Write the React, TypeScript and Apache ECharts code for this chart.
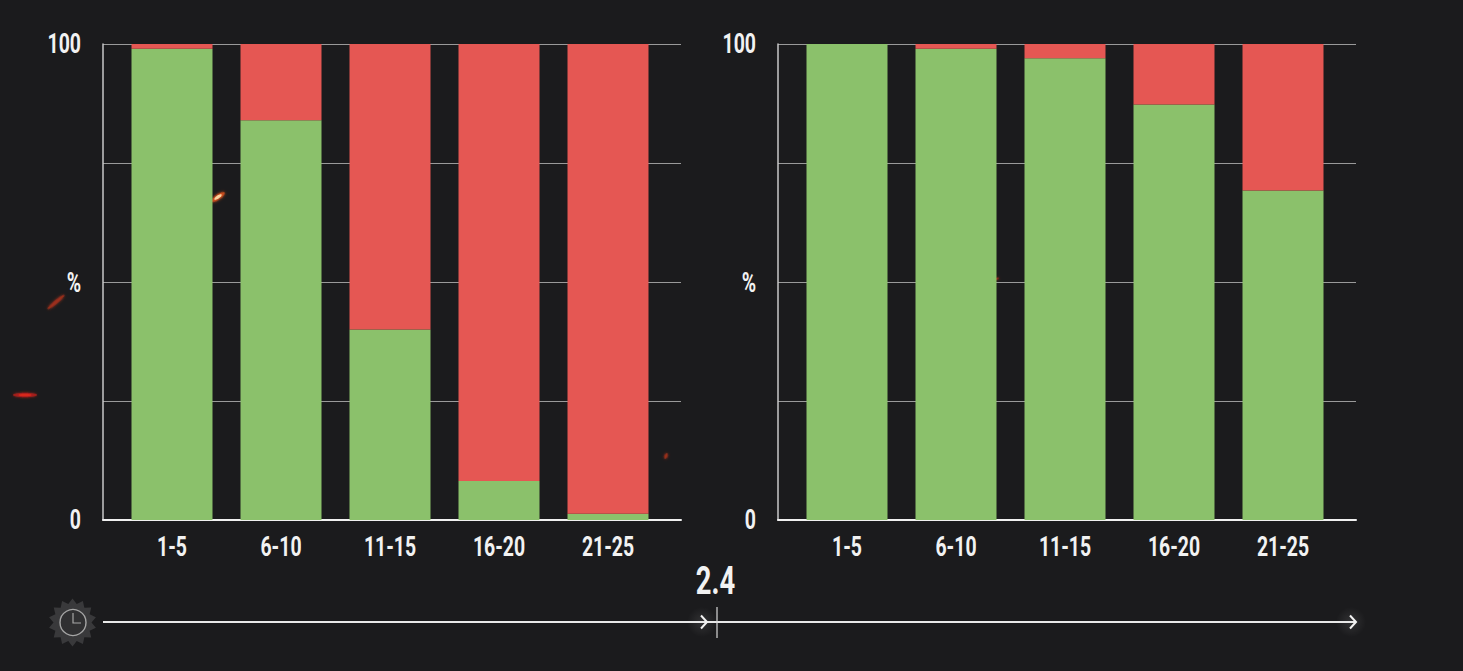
import React, { useEffect, useRef } from "react";
import * as echarts from "echarts";

const categories = ["1-5", "6-10", "11-15", "16-20", "21-25"];
const leftGreen = [99, 84, 40, 8.2, 1.3];
const leftRed = [1, 16, 60, 91.8, 98.7];
const rightGreen = [100, 99, 97, 87.3, 69.2];
const rightRed = [0, 1, 3, 12.7, 30.8];
const yTickValues = [0, 50, 100];
const yTickLabels = ["0", "%", "100"];
const timelineLabel = "2.4";

const BG = "#1b1b1d";
const GREEN = "#8bc16b";
const RED = "#e55753";
const FONT = "Roboto, sans-serif";

function gearPoints(cx: number, cy: number, r1: number, r2: number, n: number) {
  const pts: number[][] = [];
  for (let i = 0; i < n * 2; i++) {
    const a = (Math.PI * i) / n - Math.PI / 2;
    const r = i % 2 === 0 ? r1 : r2;
    pts.push([cx + r * Math.cos(a), cy + r * Math.sin(a)]);
  }
  return pts;
}

const glow = (x: number, y: number, r: number) => ({
  type: "circle",
  shape: { cx: x, cy: y, r },
  style: {
    fill: new echarts.graphic.RadialGradient(0.5, 0.5, 0.5, [
      { offset: 0, color: "rgba(255,255,255,0.10)" },
      { offset: 1, color: "rgba(255,255,255,0)" },
    ]),
  },
  silent: true,
});

const spark = (x: number, y: number, rx: number, ry: number, rot: number, color: string, core?: string) => ({
  type: "group",
  x,
  y,
  rotation: rot,
  silent: true,
  children: [
    { type: "ellipse", shape: { cx: 0, cy: 0, rx, ry }, style: { fill: color, opacity: 0.8, shadowBlur: 3, shadowColor: color } },
    ...(core
      ? [{ type: "ellipse", shape: { cx: 0, cy: 0, rx: rx * 0.55, ry: ry * 0.6 }, style: { fill: core } }]
      : []),
  ],
});

const arrow = (x: number, y: number) => ({
  type: "polyline",
  shape: { points: [[x - 6, y - 6.5], [x, y], [x - 6, y + 6.5]] },
  style: { stroke: "#f2f2f2", lineWidth: 2, fill: "none" },
  silent: true,
});

const narrowText = (text: string, x: number, y: number, size: number, align: string) => ({
  type: "text",
  x,
  y,
  scaleX: 0.72,
  silent: true,
  style: {
    text,
    fill: "#f2f2f2",
    fontFamily: FONT,
    fontWeight: "bold",
    fontSize: size,
    textAlign: align,
    textVerticalAlign: "middle",
  },
});

export default function App() {
  const ref = useRef<HTMLDivElement>(null);
  useEffect(() => {
    document.body.style.margin = "0";
    document.body.style.background = BG;
    const chart = echarts.init(ref.current!, undefined, { renderer: "svg" });

    const frameLefts = [103, 778];
    const barLefts = [117.5, 792.5];
    const top = 44;
    const h = 476;

    const grids = [
      ...frameLefts.map((left) => ({ left, top, width: 578, height: h })),
      ...barLefts.map((left) => ({ left, top, width: 545, height: h })),
    ];
    const frameX = [0, 1].map((i) => ({
      gridIndex: i,
      type: "category",
      data: categories,
      axisLine: { show: true, lineStyle: { color: "#f0f0f0", width: 2 } },
      axisTick: { show: false },
      axisLabel: { show: false },
    }));
    const barX = [2, 3].map((i) => ({
      gridIndex: i,
      type: "category",
      data: categories,
      axisLine: { show: false },
      axisTick: { show: false },
      axisLabel: { show: false },
    }));
    const frameY = [0, 1].map((i) => ({
      gridIndex: i,
      type: "value",
      min: 0,
      max: 100,
      interval: 25,
      axisLine: { show: true, lineStyle: { color: "#c8c8c8", width: 1.5 } },
      axisTick: { show: false },
      splitLine: { show: true, lineStyle: { color: "#9a9a9a", width: 1 } },
      axisLabel: { show: false },
    }));
    const barY = [2, 3].map((i) => ({
      gridIndex: i,
      type: "value",
      min: 0,
      max: 100,
      interval: 25,
      axisLine: { show: false },
      axisTick: { show: false },
      splitLine: { show: false },
      axisLabel: { show: false },
    }));

    const bars = (idx: number, stack: string, data: number[], color: string) => ({
      type: "bar",
      xAxisIndex: idx,
      yAxisIndex: idx,
      stack,
      data,
      barWidth: 81,
      itemStyle: { color },
      silent: true,
    });

    chart.setOption({
      animation: false,
      backgroundColor: BG,
      grid: grids,
      xAxis: [...frameX, ...barX],
      yAxis: [...frameY, ...barY],
      series: [
        bars(2, "l", leftGreen, GREEN),
        bars(2, "l", leftRed, RED),
        bars(3, "r", rightGreen, GREEN),
        bars(3, "r", rightRed, RED),
      ],
    });

    // Tick labels are placed through the axes' own scales; they are real text, narrowed to the reference's condensed face.
    const labelEls: any[] = [];
    [2, 3].forEach((axis) => {
      categories.forEach((c, i) => {
        const x = chart.convertToPixel({ xAxisIndex: axis }, i) as number;
        labelEls.push(narrowText(c, x, 547, 27, "center"));
      });
    });
    [0, 1].forEach((axis) => {
      yTickValues.forEach((v, i) => {
        const y = chart.convertToPixel({ yAxisIndex: axis }, v) as number;
        labelEls.push(narrowText(yTickLabels[i], frameLefts[axis] - 22, y + (v === 50 ? 1 : 0), 27, "right"));
      });
    });

    const lineY = 622;
    chart.setOption({
      graphic: [
        glow(702, lineY, 15),
        glow(1351, lineY, 15),
        { type: "polygon", shape: { points: gearPoints(72.5, 622.5, 24, 19, 14) }, style: { fill: "#39393b" }, silent: true },
        { type: "circle", shape: { cx: 73, cy: 622.5, r: 13 }, style: { fill: "#303032", stroke: "#a5a5a5", lineWidth: 1.4 }, silent: true },
        { type: "polyline", shape: { points: [[73, 613], [73, 623], [81, 623]] }, style: { stroke: "#a5a5a5", lineWidth: 1.2, fill: "none" }, silent: true },
        { type: "line", shape: { x1: 103, y1: lineY, x2: 1356, y2: lineY }, style: { stroke: "#e8e8e8", lineWidth: 2 }, silent: true },
        arrow(707, lineY),
        arrow(1356, lineY),
        { type: "line", shape: { x1: 717, y1: 607, x2: 717, y2: 638 }, style: { stroke: "#d8d8d8", lineWidth: 1.2 }, silent: true },
        narrowText(timelineLabel, 715.5, 581, 38, "center"),
        ...labelEls,
        spark(218, 197, 8, 2.6, 0.6, "#d9531e", "#f7d2a0"),
        spark(56, 302, 11, 1.8, 0.7, "#a8301a"),
        spark(25, 395, 12, 2.2, 0, "#b3201a", "#d8281c"),
        spark(666, 456, 3, 1.5, 1.2, "#a8301a"),
        spark(996, 279, 3, 1, 0.3, "#a8301a"),
      ],
    });
    return () => chart.dispose();
  }, []);
  return <div ref={ref} style={{ position: "fixed", left: 0, top: 0, width: 1463, height: 671 }} />;
}
